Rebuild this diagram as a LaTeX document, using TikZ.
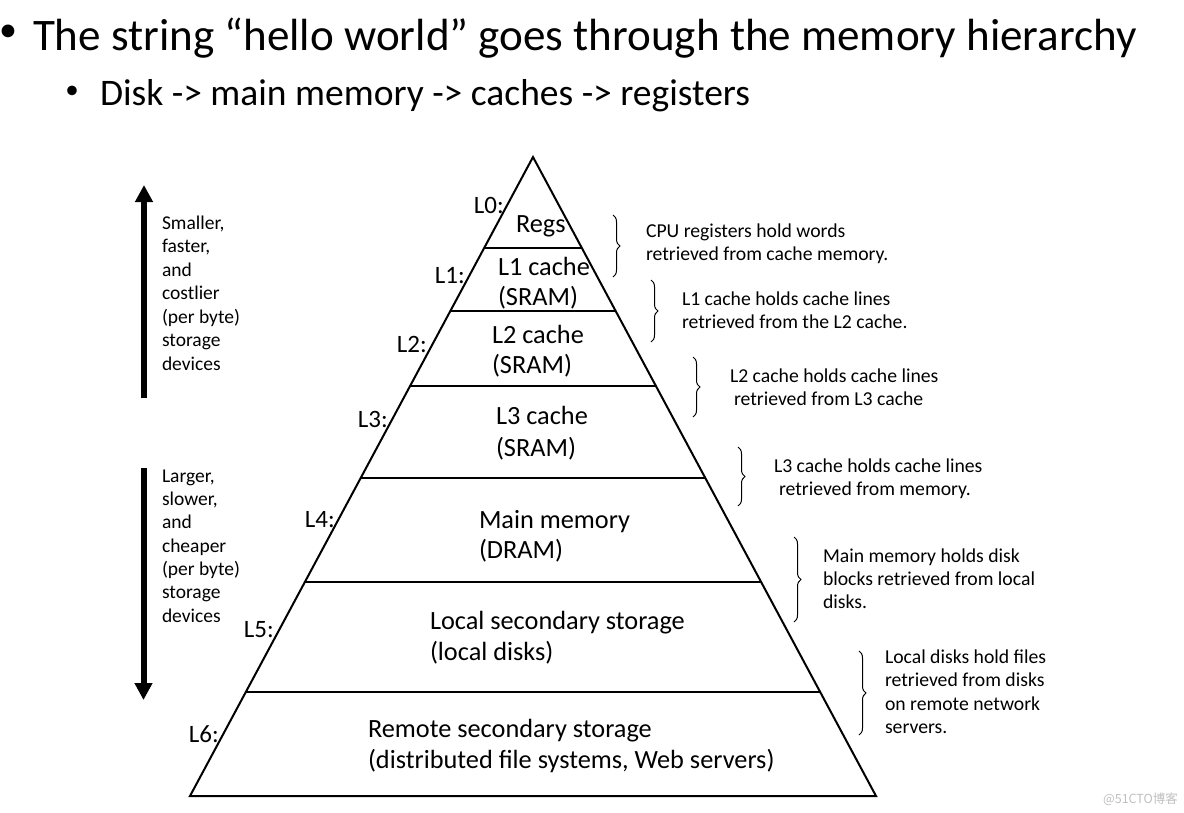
\documentclass[tikz,border=0pt]{standalone}
\usepackage{fontspec}
\setmainfont{Carlito}
\newfontfamily\cjkwm{Noto Sans CJK SC}
\usetikzlibrary{arrows.meta,decorations.pathreplacing}
\tikzset{
  txt/.style={anchor=base west, inner sep=0pt, outer sep=0pt},
  titletxt/.style={txt, font=\fontsize{45.1}{54}\selectfont},
  subtxt/.style={txt, font=\fontsize{37.5}{45}\selectfont},
  bul/.style={anchor=center, inner sep=0pt, outer sep=0pt},
  pyr/.style={txt, font=\fontsize{26.3}{31}\selectfont},
  lvl/.style={anchor=base east, inner sep=0pt, font=\fontsize{25}{30}\selectfont},
  side/.style={txt, font=\fontsize{19.5}{23.5}\selectfont},
  note/.style={txt, font=\fontsize{19.7}{23.5}\selectfont},
  layer/.style={line width=2pt},
  bigarrow/.style={line width=6pt, -{Triangle[width=17pt,length=17pt]}},
  bracestyle/.style={line width=1pt, decorate, decoration={brace, amplitude=7pt}},
}
\begin{document}
\begin{tikzpicture}[x=1pt,y=-1pt]
\useasboundingbox (0,0) rectangle (1184,812);
% title
\node[bul, font=\fontsize{36}{42}\selectfont] (b1) at (8,33) {•};
\node[titletxt] (t1) at (33,50) {The string “hello world” goes through the memory hierarchy};
\node[bul, font=\fontsize{27}{32}\selectfont] (b2) at (72,92) {•};
\node[subtxt] (t2) at (100,105) {Disk -> main memory -> caches -> registers};
% pyramid
\coordinate (A) at (533,157);
\coordinate (BL) at (190,796);
\coordinate (BR) at (876,796);
\draw[layer, line join=miter] (BL) -- (A) -- (BR) -- cycle;
\coordinate (l0) at (484.2,248); \coordinate (r0) at (581.8,248);
\coordinate (l1) at (450.3,311); \coordinate (r1) at (615.7,311);
\coordinate (l2) at (410.1,386); \coordinate (r2) at (655.9,386);
\coordinate (l3) at (360.7,478); \coordinate (r3) at (705.3,478);
\coordinate (l4) at (304.9,582); \coordinate (r4) at (761.1,582);
\coordinate (l5) at (245.8,692); \coordinate (r5) at (820.2,692);
\draw[layer] (l0) -- (r0);
\draw[layer] (l1) -- (r1);
\draw[layer] (l2) -- (r2);
\draw[layer] (l3) -- (r3);
\draw[layer] (l4) -- (r4);
\draw[layer] (l5) -- (r5);
% level texts
\node[pyr] (regs) at (516,232) {Regs};
\node[pyr] (c1a) at (498,275) {L1 cache};
\node[pyr] (c1b) at (498,305) {(SRAM)};
\node[pyr] (c2a) at (492,343) {L2 cache};
\node[pyr] (c2b) at (492,373) {(SRAM)};
\node[pyr] (c3a) at (496,424) {L3 cache};
\node[pyr] (c3b) at (496,456) {(SRAM)};
\node[pyr] (mma) at (479,528) {Main memory};
\node[pyr] (mmb) at (479,558) {(DRAM)};
\node[pyr] (lda) at (430,629) {Local secondary storage};
\node[pyr] (ldb) at (430,660) {(local disks)};
\node[pyr] (rsa) at (368,737) {Remote secondary storage};
\node[pyr] (rsb) at (368,768) {(distributed file systems, Web servers)};
% level labels
\node[lvl] (L0) at (504,213) {L0:};
\node[lvl] (L1) at (465,283) {L1:};
\node[lvl] (L2) at (427,352) {L2:};
\node[lvl] (L3) at (388,427) {L3:};
\node[lvl] (L4) at (335,527) {L4:};
\node[lvl] (L5) at (274,637) {L5:};
\node[lvl] (L6) at (219,742) {L6:};
% left arrows
\coordinate (upS) at (144,398);
\coordinate (upE) at (144,185);
\draw[bigarrow] (upS) -- (upE);
\coordinate (dnS) at (143.5,468);
\coordinate (dnE) at (143.5,700);
\draw[bigarrow] (dnS) -- (dnE);
% left texts
\node[side] (s1) at (162,229) {Smaller,};
\node[side] (s2) at (162,252.5) {faster,};
\node[side] (s3) at (162,276) {and};
\node[side] (s4) at (162,299.5) {costlier};
\node[side] (s5) at (162,323) {(per byte)};
\node[side] (s6) at (162,346.5) {storage};
\node[side] (s7) at (162,370) {devices};
\node[side] (g1) at (162,482) {Larger,};
\node[side] (g2) at (162,505.3) {slower,};
\node[side] (g3) at (162,528.7) {and};
\node[side] (g4) at (162,552) {cheaper};
\node[side] (g5) at (162,575.3) {(per byte)};
\node[side] (g6) at (162,598.7) {storage};
\node[side] (g7) at (162,622) {devices};
% braces
\draw[bracestyle] (613,215) -- (613,277);
\draw[bracestyle] (651,280) -- (651,342);
\draw[bracestyle] (693,357) -- (693,417);
\draw[bracestyle] (738,447) -- (738,506);
\draw[bracestyle] (794,537) -- (794,622);
\draw[bracestyle] (859,651) -- (859,735);
% notes
\node[note] (n0a) at (646,237) {CPU registers hold words};
\node[note] (n0b) at (646,260) {retrieved from cache memory.};
\node[note] (n1a) at (682,305) {L1 cache holds cache lines};
\node[note] (n1b) at (682,328) {retrieved from the L2 cache.};
\node[note] (n2a) at (730,382) {L2 cache holds cache lines};
\node[note] (n2b) at (734,405) {retrieved from L3 cache};
\node[note] (n3a) at (774,472) {L3 cache holds cache lines};
\node[note] (n3b) at (779,495) {retrieved from memory.};
\node[note] (n4a) at (823,562) {Main memory holds disk};
\node[note] (n4b) at (823,585) {blocks retrieved from local};
\node[note] (n4c) at (823,608) {disks.};
\node[note] (n5a) at (885,663) {Local disks hold files};
\node[note] (n5b) at (885,686.5) {retrieved from disks};
\node[note] (n5c) at (885,710) {on remote network};
\node[note] (n5d) at (885,733) {servers.};
% watermark
\node[txt, text=black!25, font=\cjkwm\fontsize{12.5}{15}\selectfont] (wm) at (1103,803) {@51CTO博客};
\end{tikzpicture}
\end{document}
